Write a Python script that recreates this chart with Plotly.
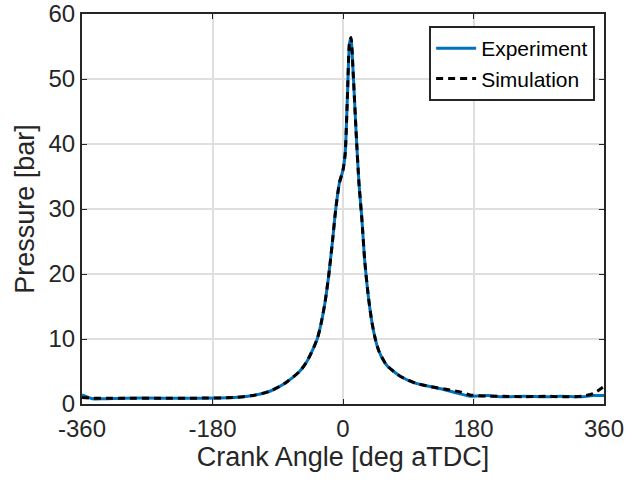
import plotly.graph_objects as go

exp_angle = [-360, -345, -330, -300, -250, -200, -150, -120, -100, -80, -60, -50, -40, -35, -30, -25, -20, -15, -10, -5, 0, 3, 6, 9, 11, 14, 18, 22, 26, 30, 35, 40, 45, 50, 60, 70, 80, 100, 120, 140, 160, 175, 200, 220, 250, 280, 300, 330, 345, 360]
exp_pressure = [1.4, 0.8, 0.8, 0.9, 0.9, 0.9, 1.0, 1.4, 2.0, 3.2, 5.0, 6.5, 8.8, 10.2, 12.5, 15.5, 19.5, 24.5, 30.0, 34.0, 36.0, 38.5, 47.0, 55.5, 56.3, 51.0, 42.0, 34.0, 28.5, 22.0, 16.5, 12.5, 9.8, 8.0, 6.0, 5.0, 4.2, 3.2, 2.7, 2.2, 1.6, 1.2, 1.3, 1.1, 1.2, 1.1, 1.2, 1.1, 1.3, 1.3]

sim_angle = [-360, -345, -330, -300, -250, -200, -150, -120, -100, -80, -60, -50, -40, -35, -30, -25, -20, -15, -10, -5, 0, 3, 6, 9, 11, 14, 18, 22, 26, 30, 35, 40, 45, 50, 60, 70, 80, 100, 120, 140, 160, 175, 200, 220, 250, 280, 300, 330, 345, 360]
sim_pressure = [1.0, 0.9, 0.9, 0.9, 0.9, 0.9, 1.0, 1.4, 2.0, 3.2, 5.0, 6.5, 8.8, 10.2, 12.5, 15.5, 19.5, 24.5, 30.0, 34.0, 36.0, 38.5, 47.0, 55.7, 56.4, 51.0, 42.0, 34.0, 28.5, 22.0, 16.5, 12.5, 9.8, 8.0, 6.0, 5.0, 4.2, 3.2, 2.7, 2.3, 1.9, 1.4, 1.2, 1.2, 1.1, 1.2, 1.1, 1.2, 1.6, 2.7]

x_ticks = [-360, -180, 0, 180, 360]
x_tick_text = ["-360", "-180", "0", "180", "360"]
y_ticks = [0, 10, 20, 30, 40, 50, 60]
y_tick_text = ["0", "10", "20", "30", "40", "50", "60"]

FONT = "Liberation Sans, Arial"
TXT = "#262626"

fig = go.Figure()
fig.add_trace(go.Scatter(x=exp_angle, y=exp_pressure, mode="lines", name="Experiment",
                         line=dict(color="#0072BD", width=3, shape="spline", smoothing=0.6)))
fig.add_trace(go.Scatter(x=sim_angle, y=sim_pressure, mode="lines", name="Simulation",
                         line=dict(color="black", width=3, dash="7px,5px", shape="spline", smoothing=0.6)))

axis_common = dict(showline=True, linecolor=TXT, linewidth=2, mirror="allticks",
                   ticks="inside", ticklen=5, tickwidth=1, tickcolor=TXT,
                   showgrid=True, gridcolor="#dfdfdf", gridwidth=2, zeroline=False,
                   automargin=False,
                   tickfont=dict(family=FONT, size=24, color=TXT))

fig.update_layout(
    width=629, height=486,
    margin=dict(l=82, r=25, t=14, b=82),
    plot_bgcolor="white", paper_bgcolor="white",
    xaxis=dict(range=[-360, 360], tickvals=x_ticks, ticktext=x_tick_text, ticklabelstandoff=2,
               title=dict(text="Crank Angle [deg aTDC]", font=dict(family=FONT, size=27, color=TXT), standoff=2),
               **axis_common),
    yaxis=dict(range=[0, 60], tickvals=y_ticks, ticktext=y_tick_text,
               title=dict(text="Pressure [bar]", font=dict(family=FONT, size=27, color=TXT), standoff=6),
               **axis_common),
    legend=dict(x=0.983, y=0.969, xanchor="right", yanchor="top",
                bgcolor="white", bordercolor=TXT, borderwidth=2,
                font=dict(family=FONT, size=21, color="black"),
                tracegroupgap=0, itemwidth=40),
    showlegend=True,
)

fig.write_html("out.html")
